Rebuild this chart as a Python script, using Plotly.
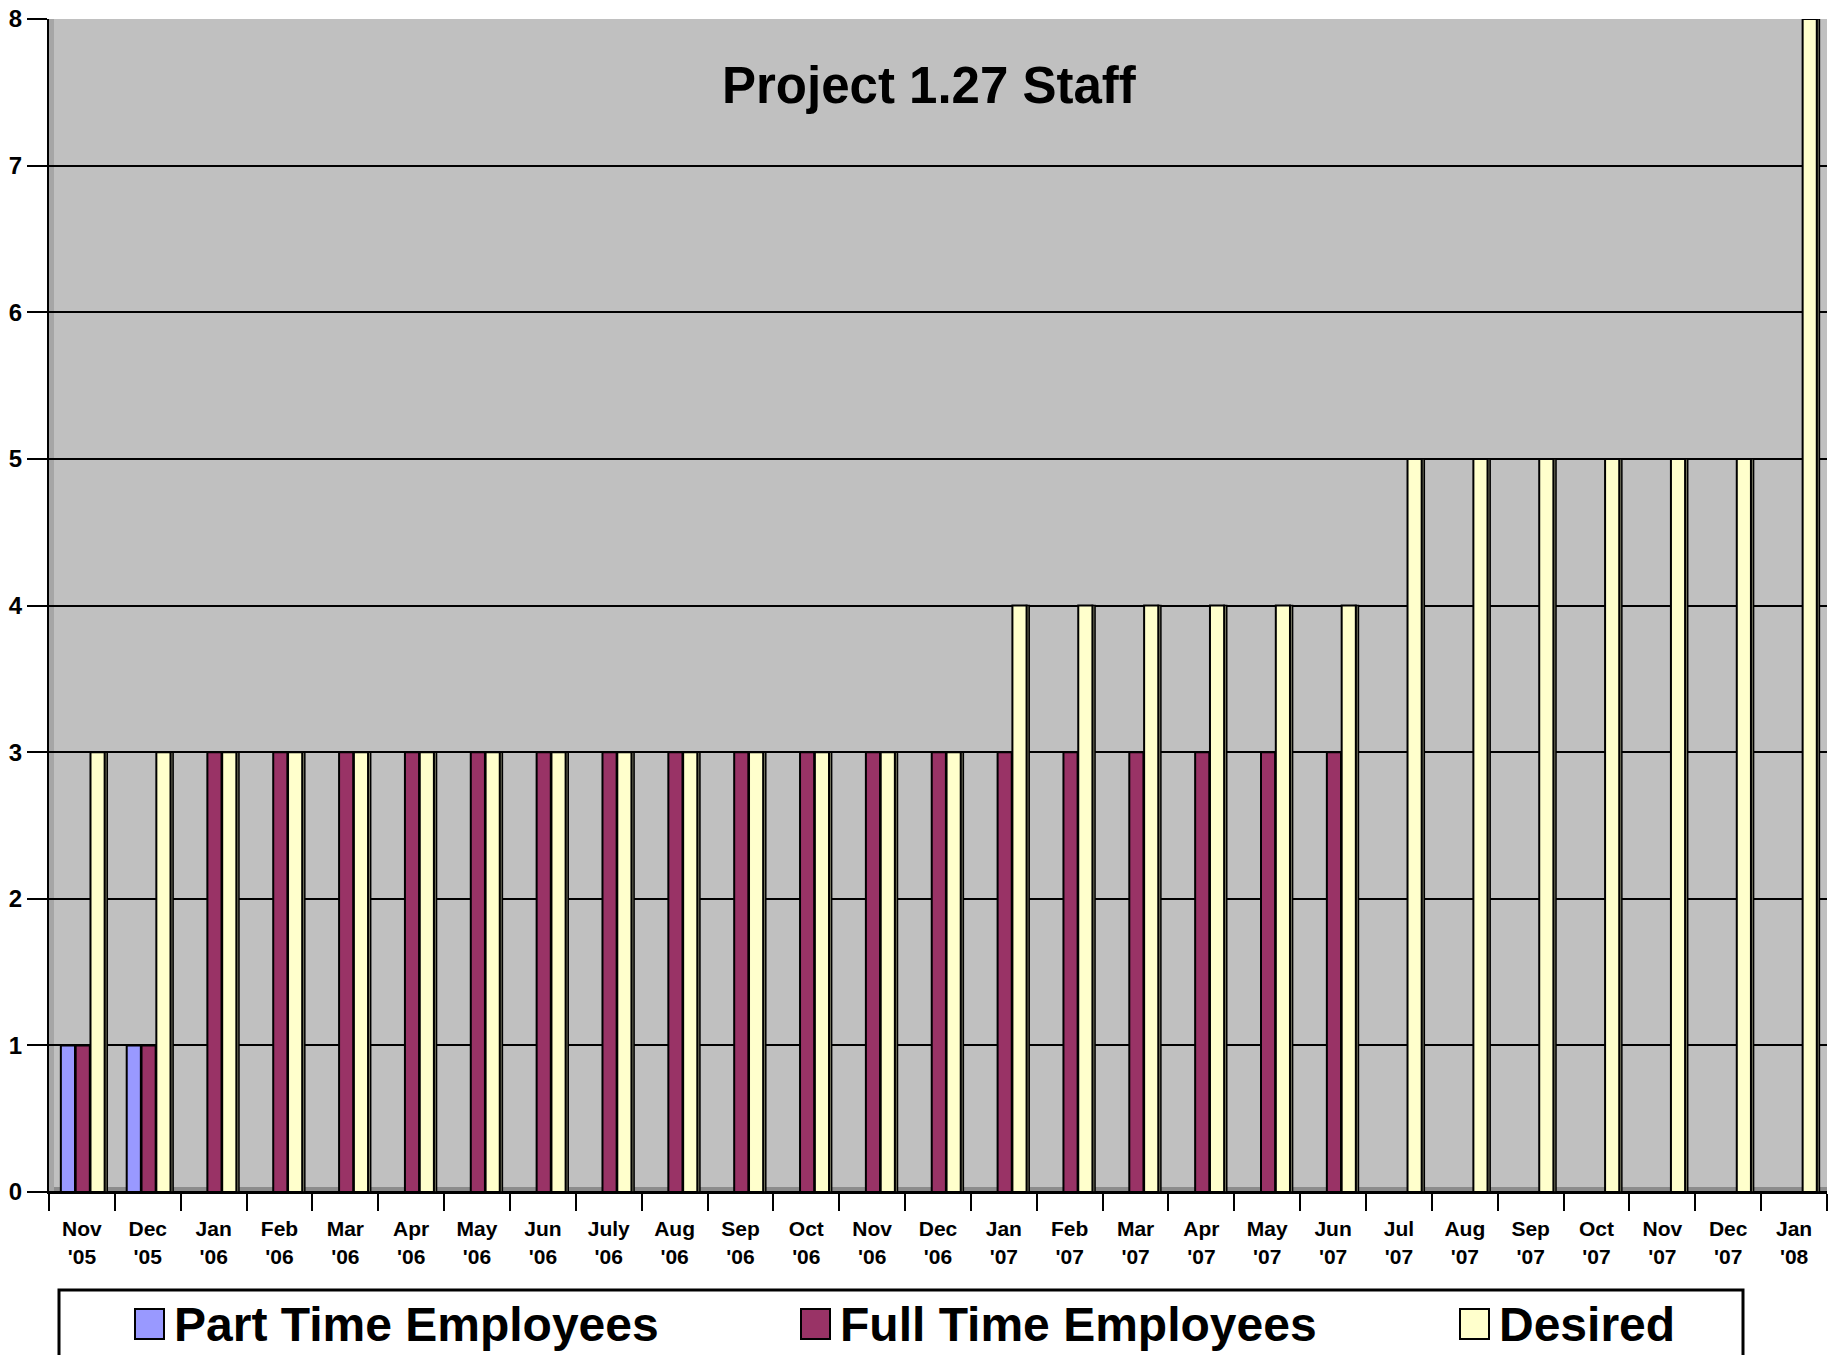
import plotly.graph_objects as go

months = ["Nov<br>'05", "Dec<br>'05", "Jan<br>'06", "Feb<br>'06", "Mar<br>'06", "Apr<br>'06",
          "May<br>'06", "Jun<br>'06", "July<br>'06", "Aug<br>'06", "Sep<br>'06", "Oct<br>'06",
          "Nov<br>'06", "Dec<br>'06", "Jan<br>'07", "Feb<br>'07", "Mar<br>'07", "Apr<br>'07",
          "May<br>'07", "Jun<br>'07", "Jul<br>'07", "Aug<br>'07", "Sep<br>'07", "Oct<br>'07",
          "Nov<br>'07", "Dec<br>'07", "Jan<br>'08"]
part_time = [1, 1] + [None] * 25
full_time = [1, 1] + [3] * 18 + [None] * 7
desired = [3, 3] + [3] * 12 + [4] * 6 + [5] * 6 + [8]

series_names = ["Part Time Employees", "Full Time Employees", "Desired"]
series_colors = ["#9999ff", "#993366", "#ffffcc"]
side_colors = ["#5c5c99", "#5c1f3d", "#80806a"]
series_values = [part_time, full_time, desired]
offsets = [-0.32, -0.095, 0.13]
BW = 0.215
SIDE = 0.045

FONT = "Liberation Sans, Arial, sans-serif"

fig = go.Figure()
for name, vals, col, scol, off in zip(series_names, series_values, series_colors, side_colors, offsets):
    fig.add_trace(go.Bar(x=months, y=vals, name=name + " side", offset=off + BW - 0.005, width=SIDE,
                         marker=dict(color=scol, line=dict(color="black", width=1.5)),
                         showlegend=False, hoverinfo="skip"))
    fig.add_trace(go.Bar(x=months, y=vals, name=name, offset=off, width=BW,
                         marker=dict(color=col, line=dict(color="black", width=2)),
                         showlegend=False))

fig.update_layout(
    width=1831, height=1347,
    margin=dict(l=41, r=12, t=11, b=163),
    paper_bgcolor="white", plot_bgcolor="#c0c0c0",
    barmode="overlay",
    font=dict(family=FONT, color="black"),
    xaxis=dict(showline=True, linecolor="black", linewidth=2, automargin=False,
               ticks="outside", tickson="boundaries", ticklen=17, tickwidth=2, tickcolor="black",
               ticklabelstandoff=17,
               tickfont=dict(size=21, family=FONT, weight="bold"), showgrid=False),
    yaxis=dict(range=[0, 8], dtick=1, showline=True, linecolor="black", linewidth=2,
               automargin=False, ticklabeloverflow="allow",
               ticks="outside", ticklen=20, tickwidth=2, tickcolor="black",
               tickfont=dict(size=24, family=FONT, weight="bold"),
               showgrid=True, gridcolor="black", gridwidth=2,
               zeroline=True, zerolinecolor="black", zerolinewidth=2),
)

fig.add_annotation(text="<b>Project 1.27 Staff</b>", xref="paper", yref="paper",
                   x=0.495, y=0.943, xanchor="center", yanchor="middle",
                   showarrow=False, font=dict(size=51, family=FONT))

# manual legend (paper coordinates; plot spans page x 49..1827, y 19..1192 px)
def px_x(p):
    return (p - 49) / 1778

def px_y(p):
    return (1192 - p) / 1173

# 3D floor and left wall hints
fig.add_shape(type="rect", xref="paper", yref="paper", x0=0, x1=1, y0=0, y1=px_y(1187),
              line=dict(width=0), fillcolor="#8c8c8c", layer="below")
fig.add_shape(type="rect", xref="paper", yref="paper", x0=0, x1=px_x(54), y0=0, y1=1,
              line=dict(width=0), fillcolor="#a6a6a6", layer="below")

fig.add_shape(type="rect", xref="paper", yref="paper",
              x0=px_x(59), x1=px_x(1743), y0=px_y(1380), y1=px_y(1290),
              line=dict(color="black", width=3), fillcolor="white", layer="above")
sw_x = [135, 801, 1460]
tx_x = [172, 838, 1497]
for name, col, sx, tx in zip(series_names, series_colors, sw_x, tx_x):
    fig.add_shape(type="rect", xref="paper", yref="paper",
                  x0=px_x(sx), x1=px_x(sx + 29), y0=px_y(1339), y1=px_y(1309),
                  line=dict(color="black", width=2), fillcolor=col, layer="above")
    fig.add_annotation(text="<b>" + name + "</b>", xref="paper", yref="paper",
                       x=px_x(tx), y=px_y(1324), xanchor="left", yanchor="middle",
                       showarrow=False, font=dict(size=48, family=FONT))

fig.write_html("out.html")
